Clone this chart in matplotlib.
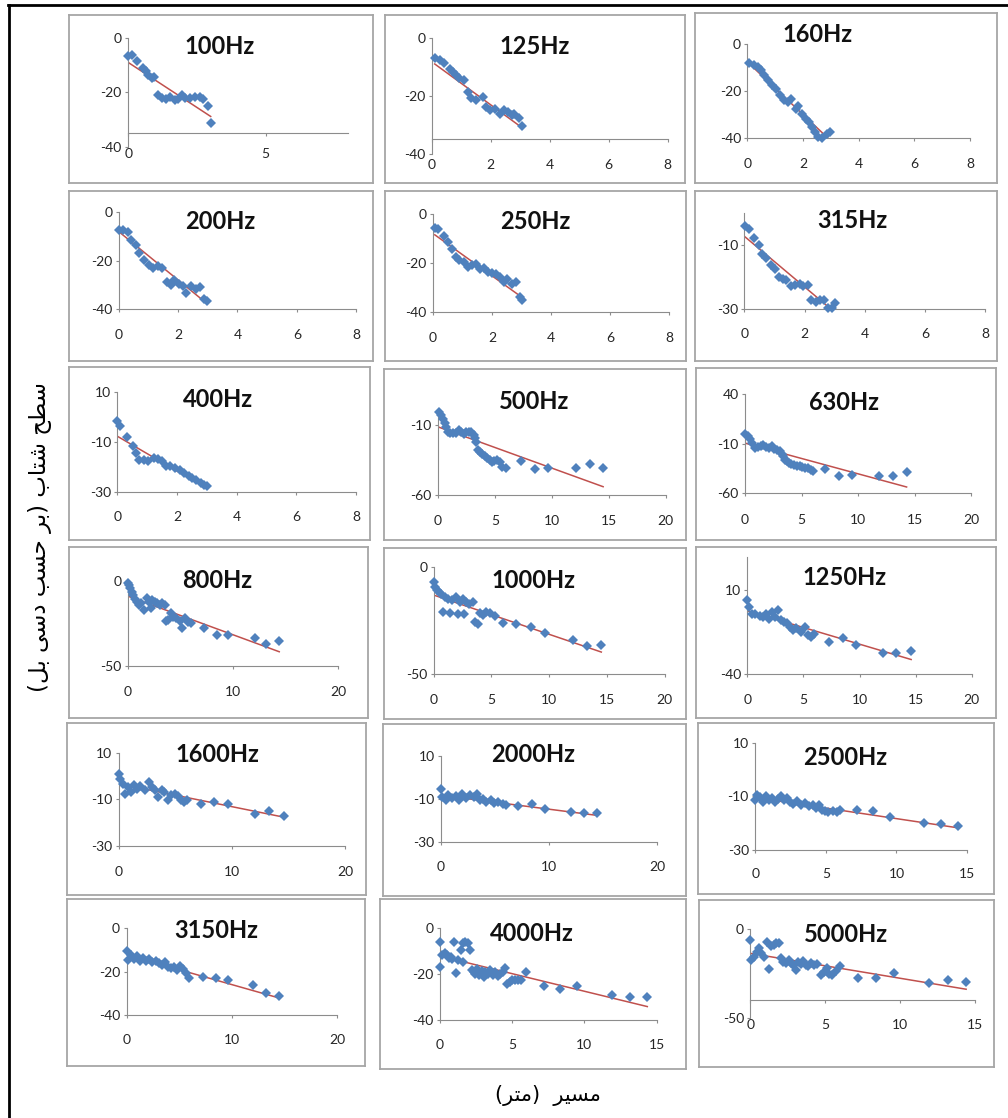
import numpy as np
import matplotlib
matplotlib.use("Agg")
import matplotlib.pyplot as plt
from matplotlib.lines import Line2D

plt.rcParams["axes.unicode_minus"] = False

W, H = 1008, 1118

freqs = ["100Hz", "125Hz", "160Hz", "200Hz", "250Hz", "315Hz",
         "400Hz", "500Hz", "630Hz", "800Hz", "1000Hz", "1250Hz",
         "1600Hz", "2000Hz", "2500Hz", "3150Hz", "4000Hz", "5000Hz"]

# distance (m) and acceleration level (dB)
x100 = [0, 0.12, 0.33, 0.55, 0.64, 0.73, 0.85, 0.93, 1.07, 1.21, 1.37, 1.52, 1.70, 1.82, 1.94, 2.06, 2.25, 2.43, 2.60, 2.73, 2.89, 3.00]
y100 = [-6.7, -6.4, -8.5, -11.2, -12.4, -13.7, -14.9, -14.5, -21.2, -22.2, -22.6, -21.9, -22.8, -22.6, -21.0, -22.2, -22.2, -21.6, -21.6, -22.6, -25.2, -31.3]

x125 = [0.10, 0.27, 0.41, 0.61, 0.71, 0.82, 0.92, 1.08, 1.22, 1.33, 1.49, 1.73, 1.84, 1.98, 2.14, 2.31, 2.45, 2.59, 2.71, 2.80, 2.96, 3.06]
y125 = [-7.1, -7.7, -8.6, -10.6, -11.7, -12.9, -14.0, -14.6, -18.6, -20.9, -21.3, -20.3, -23.8, -24.7, -24.4, -26.1, -24.9, -25.5, -26.7, -26.1, -27.5, -30.5]

x160 = [0.06, 0.24, 0.39, 0.49, 0.60, 0.75, 0.88, 1.03, 1.18, 1.31, 1.46, 1.57, 1.74, 1.83, 1.96, 2.11, 2.22, 2.32, 2.43, 2.54, 2.69, 2.86, 2.97]
y160 = [-8.1, -8.6, -9.6, -11.0, -13.1, -15.3, -17.4, -18.9, -21.7, -23.9, -24.6, -23.1, -27.4, -26.4, -29.6, -31.7, -33.1, -35.0, -37.4, -39.6, -39.9, -38.1, -37.4]

x200 = [0, 0.16, 0.30, 0.42, 0.57, 0.67, 0.87, 1.03, 1.17, 1.31, 1.47, 1.64, 1.78, 1.88, 2.02, 2.18, 2.28, 2.44, 2.59, 2.73, 2.89, 2.99]
y200 = [-7.5, -7.3, -8.2, -11.4, -13.4, -16.8, -19.6, -21.6, -23.0, -22.3, -23.0, -28.9, -29.9, -27.8, -29.5, -30.5, -33.3, -30.5, -31.6, -30.8, -35.8, -36.7]

x250 = [0.06, 0.16, 0.37, 0.51, 0.63, 0.78, 0.88, 1.04, 1.18, 1.33, 1.45, 1.59, 1.73, 1.86, 2.00, 2.14, 2.27, 2.41, 2.51, 2.67, 2.82, 2.96, 3.02]
y250 = [-5.5, -6.2, -9.0, -11.3, -14.1, -17.5, -18.6, -19.6, -21.7, -21.0, -20.3, -22.3, -22.1, -23.7, -24.1, -24.4, -25.8, -27.9, -26.5, -28.6, -27.9, -34.1, -35.2]

x315 = [0.02, 0.16, 0.33, 0.47, 0.57, 0.73, 0.88, 1.02, 1.14, 1.29, 1.39, 1.55, 1.69, 1.84, 1.96, 2.10, 2.20, 2.37, 2.51, 2.65, 2.78, 2.92, 3.02]
y315 = [-4.1, -4.8, -7.6, -10.0, -12.6, -14.1, -16.2, -17.3, -19.8, -20.4, -20.9, -22.8, -22.5, -22.0, -22.8, -22.5, -27.2, -27.7, -27.2, -27.0, -29.5, -29.7, -28.0]

x400 = [0, 0.10, 0.31, 0.51, 0.61, 0.71, 0.88, 1.02, 1.22, 1.37, 1.49, 1.63, 1.78, 1.94, 2.10, 2.24, 2.39, 2.51, 2.65, 2.80, 2.92, 3.02]
y400 = [-1.7, -3.5, -8.1, -11.5, -14.4, -17.1, -17.1, -17.7, -16.4, -16.8, -17.7, -19.5, -19.7, -20.4, -21.1, -22.4, -23.5, -24.4, -25.1, -26.4, -27.5, -27.7]

x500 = [0.10, 0.26, 0.42, 0.59, 0.75, 0.85, 1.07, 1.30, 1.56, 1.82, 2.05, 2.28, 2.48, 2.70, 2.93, 3.13, 3.26, 3.35, 3.52, 3.68,
        3.84, 4.10, 4.33, 4.56, 4.76, 4.89, 5.15, 5.41, 5.64, 5.96, 7.26, 8.50, 9.70, 12.08, 13.36, 14.50]
y500 = [-0.5, -2.9, -6.0, -8.3, -11.2, -14.8, -16.0, -15.5, -16.0, -13.6, -15.2, -16.4, -14.8, -14.8, -15.2, -17.1, -19.5, -21.9, -27.9, -29.0,
        -30.7, -32.1, -33.8, -35.0, -36.2, -35.5, -35.0, -36.2, -40.2, -41.0, -35.7, -41.4, -40.5, -41.0, -38.1, -41.0]

x630 = [0, 0.23, 0.42, 0.65, 0.87, 1.13, 1.39, 1.62, 1.84, 2.10, 2.36, 2.59, 2.82, 3.07, 3.24, 3.40, 3.56, 3.72, 3.88, 4.11,
        4.37, 4.63, 4.85, 5.08, 5.34, 5.60, 5.83, 5.99, 7.12, 8.32, 9.48, 11.88, 13.10, 14.30]
y630 = [-0.2, -2.6, -5.3, -9.3, -14.4, -13.7, -12.7, -11.3, -13.4, -14.4, -12.7, -15.4, -16.1, -17.7, -20.1, -22.8, -26.2, -27.8, -28.9, -30.2,
        -31.2, -32.2, -32.9, -33.6, -34.6, -34.6, -36.9, -37.9, -35.6, -42.3, -41.3, -42.3, -43.0, -38.6]

x800 = [0, 0.14, 0.24, 0.42, 0.49, 0.70, 0.84, 1.05, 1.29, 1.54, 1.82, 2.00, 2.17, 2.34, 2.59, 2.80, 3.04, 3.29, 3.50, 3.64,
        3.85, 4.09, 4.34, 4.62, 4.97, 5.21, 5.49, 5.73, 6.01, 7.24, 8.46, 9.58, 12.06, 13.18, 14.41]
y800 = [-1.4, -2.4, -4.3, -6.3, -8.3, -10.8, -12.2, -14.2, -13.2, -17.1, -10.2, -12.2, -16.1, -11.2, -12.2, -13.2, -14.2, -13.2, -14.2, -23.6,
        -23.0, -19.1, -21.1, -22.0, -23.4, -27.8, -22.0, -24.0, -25.0, -27.8, -31.9, -31.9, -33.5, -37.2, -35.2]

x1000 = [0, 0.16, 0.32, 0.48, 0.65, 0.81, 1.03, 1.23, 1.45, 1.61, 1.94, 2.10, 2.32, 2.52, 2.65, 2.84, 3.06, 3.39, 3.61, 3.81,
         4.03, 4.26, 4.52, 4.90, 5.32, 5.97, 7.16, 8.45, 9.68, 12.10, 13.29, 14.52]
y1000 = [-7.0, -9.3, -10.9, -11.6, -12.9, -21.0, -14.0, -15.2, -21.4, -15.5, -14.0, -22.0, -16.3, -15.2, -22.0, -16.3, -17.4, -16.3, -25.6, -26.7,
         -21.7, -22.5, -21.0, -21.4, -23.0, -26.1, -26.7, -28.3, -30.7, -34.2, -37.0, -36.5]

x1250 = [0, 0.16, 0.43, 0.70, 1.08, 1.35, 1.67, 1.89, 2.21, 2.48, 2.75, 3.02, 3.29, 3.56, 3.83, 4.10, 4.37, 4.74, 5.12, 5.44,
         5.71, 5.98, 7.28, 8.52, 9.70, 12.08, 13.26, 14.60]
y1250 = [4.4, 0.1, -3.9, -4.3, -5.5, -5.9, -3.9, -6.9, -2.9, -5.9, -1.9, -7.9, -8.8, -9.8, -11.8, -13.8, -12.8, -14.8, -11.8, -16.8,
         -17.8, -16.2, -20.8, -18.8, -22.7, -27.3, -27.7, -26.1]

x1600 = [0, 0.16, 0.43, 0.59, 0.80, 1.12, 1.33, 1.65, 1.92, 2.29, 2.72, 2.93, 3.25, 3.47, 3.79, 4.00, 4.32, 4.59, 4.96, 5.23,
         5.49, 5.76, 6.03, 7.25, 8.43, 9.65, 12.00, 13.23, 14.56]
y1600 = [1.0, -1.1, -3.3, -7.6, -4.7, -6.9, -4.0, -5.4, -4.4, -6.1, -2.6, -4.7, -6.1, -9.0, -6.1, -6.9, -10.4, -8.3, -7.6, -8.7,
         -10.4, -11.1, -10.4, -11.9, -11.1, -12.1, -16.1, -15.0, -16.9]

x2000 = [0, 0.11, 0.45, 0.67, 1.00, 1.40, 1.68, 1.96, 2.35, 2.68, 3.07, 3.35, 3.63, 3.91, 4.19, 4.58, 4.92, 5.31, 5.70, 6.03,
         7.15, 8.38, 9.61, 12.01, 13.18, 14.41]
y2000 = [-5.3, -9.2, -10.5, -8.4, -9.5, -8.9, -10.5, -8.0, -9.5, -8.4, -9.2, -8.0, -10.8, -10.0, -11.6, -10.8, -12.0, -11.6, -12.3, -13.1,
         -13.6, -12.7, -14.7, -16.3, -16.7, -16.7]

x2500 = [0, 0.09, 0.34, 0.52, 0.77, 0.94, 1.20, 1.37, 1.63, 1.80, 2.06, 2.27, 2.49, 2.70, 2.92, 3.22, 3.52, 3.78, 4.08, 4.29,
         4.51, 4.72, 4.94, 5.15, 5.49, 5.79, 6.01, 7.21, 8.37, 9.57, 11.93, 13.13, 14.33]
y2500 = [-11.5, -9.6, -10.3, -12.1, -10.0, -11.3, -10.5, -12.1, -10.9, -10.0, -11.5, -10.5, -12.1, -12.8, -11.8, -13.4, -12.5, -13.8, -13.4, -14.6,
         -13.4, -15.0, -15.5, -15.9, -15.5, -15.9, -15.3, -15.3, -15.5, -17.8, -19.9, -20.5, -21.3]

x3150 = [0, 0.11, 0.40, 0.69, 1.03, 1.32, 1.61, 1.90, 2.18, 2.47, 2.76, 3.05, 3.33, 3.62, 3.91, 4.20, 4.48, 4.77, 5.06, 5.34,
         5.63, 5.92, 7.30, 8.51, 9.66, 12.07, 13.22, 14.48]
y3150 = [-10.3, -14.5, -12.2, -14.1, -13.0, -15.0, -13.8, -15.3, -14.1, -15.6, -15.0, -16.1, -16.9, -15.6, -17.7, -18.4, -17.7, -19.2, -17.2, -18.8,
         -20.8, -22.8, -22.3, -23.1, -23.9, -26.3, -29.7, -31.3]

x4000 = [0, 0, 0.18, 0.36, 0.51, 0.61, 0.76, 0.87, 1.02, 1.12, 1.27, 1.45, 1.58, 1.63, 1.78, 1.96, 2.09, 2.21, 2.34, 2.47,
         2.60, 2.72, 2.90, 3.05, 3.16, 3.31, 3.49, 3.66, 3.82, 4.00, 4.17, 4.38, 4.50, 4.68, 4.83, 5.01, 5.19, 5.39, 5.60, 5.95,
         7.18, 8.32, 9.52, 11.93, 13.16, 14.35]
y4000 = [-6.1, -17.0, -11.9, -11.2, -11.9, -13.3, -12.6, -13.8, -6.1, -19.6, -14.1, -9.7, -6.5, -14.8, -6.1, -6.8, -9.7, -18.4, -19.1, -19.9,
         -18.1, -20.4, -18.6, -21.2, -19.1, -20.1, -18.4, -20.4, -19.4, -20.9, -20.1, -19.1, -17.7, -24.5, -23.5, -22.5, -22.8, -22.5, -22.8, -19.1,
         -25.4, -26.8, -25.4, -29.3, -30.3, -30.0]

x5000 = [0, 0.05, 0.25, 0.42, 0.59, 0.74, 0.91, 1.08, 1.23, 1.40, 1.57, 1.72, 1.89, 2.06, 2.21, 2.38, 2.56, 2.70, 2.87, 3.05,
         3.19, 3.37, 3.54, 3.69, 3.86, 4.03, 4.23, 4.47, 4.72, 4.91, 5.09, 5.26, 5.45, 5.70, 5.99, 7.22, 8.40, 9.58, 11.97, 13.19,
         14.42]
y5000 = [-6.0, -17.2, -15.4, -12.5, -10.7, -13.1, -15.7, -6.9, -22.5, -9.4, -8.8, -7.5, -7.9, -16.3, -18.2, -19.1, -17.2, -18.7, -20.0, -22.8,
         -18.2, -19.5, -17.6, -20.0, -20.6, -19.1, -20.0, -19.5, -25.7, -23.8, -21.9, -25.1, -25.7, -23.2, -20.6, -27.5, -27.5, -24.3, -30.0, -28.5,
         -29.4]

# linear trend lines as drawn in the picture: (intercept, slope)
trend100 = (-9.1, -6.6)
trend125 = (-8.3, -7.4)
trend160 = (-7.5, -11.2)
trend200 = (-7.9, -10.0)
trend250 = (-7.9, -8.7)
trend315 = (-7.2, -7.9)
trend400 = (-7.7, -7.0)
trend500 = (-11.3, -2.95)
trend630 = (-9.3, -3.1)
trend800 = (-8.9, -2.28)
trend1000 = (-13.2, -1.83)
trend1250 = (-2.3, -1.99)
trend1600 = (-3.3, -0.98)
trend2000 = (-8.4, -0.65)
trend2500 = (-10.5, -0.79)
trend3150 = (-12.2, -1.38)
trend4000 = (-12.3, -1.53)
trend5000 = (-13.5, -1.40)

xs = [x100, x125, x160, x200, x250, x315, x400, x500, x630,
      x800, x1000, x1250, x1600, x2000, x2500, x3150, x4000, x5000]
ys = [y100, y125, y160, y200, y250, y315, y400, y500, y630,
      y800, y1000, y1250, y1600, y2000, y2500, y3150, y4000, y5000]
trends = [trend100, trend125, trend160, trend200, trend250, trend315, trend400, trend500, trend630,
          trend800, trend1000, trend1250, trend1600, trend2000, trend2500, trend3150, trend4000, trend5000]

# layout in pixels: frame box, plot box (left, right, top, bottom), y range, y ticks,
# where the x axis crosses, x max, x step, x label row, title centre
layout = [
    ((69, 15, 373, 183), (128.3, 348, 37.7, 146.7), (-40, 0), [-40, -20, 0], -35, 8, 5, 155, (220, 46.7)),
    ((385, 15, 685, 183), (431.8, 667.6, 37.7, 154), (-40, 0), [-40, -20, 0], -35, 8, 2, 166, (534.6, 46)),
    ((695, 13, 997, 183), (747.4, 970, 44.3, 138.3), (-40, 0), [-40, -20, 0], -40, 8, 2, 165, (817.6, 35)),
    ((69, 191, 373, 361), (118.6, 356.3, 212.3, 309.3), (-40, 0), [-40, -20, 0], -40, 8, 2, 336, (220, 221.7)),
    ((385, 191, 686, 361), (433, 669.4, 214.3, 311.7), (-40, 0), [-40, -20, 0], -40, 8, 2, 339, (535.8, 221.7)),
    ((695, 191, 997, 361), (744.4, 985, 213.3, 309.3), (-30, 0), [-30, -10], -30, 8, 2, 335, (852, 220)),
    ((69, 367, 370, 540), (117.4, 356, 392.3, 491.7), (-30, 10), [-30, -10, 10], -30, 8, 2, 518, (218.4, 399.3)),
    ((384, 369, 686, 540), (437.9, 665.8, 411, 495), (-60, 0), [-60, -10], -60, 20, 5, 521.5, (534.6, 401.7)),
    ((696, 368, 996, 540), (745, 971, 394.3, 493.3), (-60, 40), [-60, -10, 40], -60, 20, 5, 521, (844, 402.3)),
    ((69, 547, 368, 718), (127.7, 338, 581, 665.7), (-50, 0), [-50, 0], -50, 20, 10, 692.5, (217, 580)),
    ((384, 548, 686, 719), (433.6, 664.6, 566.7, 674), (-50, 0), [-50, 0], -50, 20, 5, 701, (533.4, 580)),
    ((696, 547, 996, 718), (747.4, 971.7, 556.7, 674), (-40, 30), [-40, 10], -40, 20, 5, 701, (844.8, 578)),
    ((67, 723, 366, 895), (118.6, 345.4, 752.5, 846.3), (-30, 10), [-30, -10, 10], -30, 20, 10, 872.5, (217.2, 754.5)),
    ((383, 724, 686, 896), (441, 657.3, 755.8, 841.6), (-30, 10), [-30, -10, 10], -30, 20, 10, 868, (533.4, 755)),
    ((698, 723, 994, 894), (755.3, 967, 742.8, 849.6), (-30, 10), [-30, -10, 10], -30, 15, 5, 875.5, (844.8, 757.9)),
    ((67, 899, 365, 1066), (126.5, 336.9, 928.4, 1014.8), (-40, 0), [-40, -20, 0], -40, 20, 10, 1041.5, (216, 931)),
    ((380, 899, 686, 1069), (439.7, 656.7, 927.7, 1019.8), (-40, 0), [-40, -20, 0], -40, 15, 5, 1046, (531.6, 933.7)),
    ((699, 900, 994, 1067), (750.4, 974.8, 929.4, 1018.2), (-50, 0), [-50, 0], -40, 15, 5, 1026, (846, 934.4)),
]

# Persian labels, shaped and laid out right-to-left by hand
ylabel_fa = ("(\uFEDE\uFE91 \uFEF0\uFEB3\uFEA9 \uFE90\uFEB4\uFEA3 \uFEAE\uFE91) "
             "\uFE8F\uFE8E\uFE98\uFEB7 \uFEA2\uFEC4\uFEB3")
xlabel_fa = "(\uFEAE\uFE98\uFEE3)  \uFEAE\uFEF4\uFEB4\uFEE3"

BLUE = "#4F81BD"
RED = "#C0504D"
AXIS_GRAY = "#8C8C8C"
FRAME_GRAY = "#A6A6A6"
TICK_PX = 3


def fig_rect(x0, y0, x1, y1):
    return [x0 / W, 1 - y1 / H, (x1 - x0) / W, (y1 - y0) / H]


fig = plt.figure(figsize=(W / 100, H / 100), dpi=100)

for i in range(len(freqs)):
    frame, box, ylim, yticks, cross, xmax, xstep, label_y, title_xy = layout[i]

    fr = fig.add_axes(fig_rect(*frame))
    fr.set_xticks([])
    fr.set_yticks([])
    for s in fr.spines.values():
        s.set_color(FRAME_GRAY)
        s.set_linewidth(1.3)
    fr.set_zorder(0)

    L, R, T, B = box
    ax = fig.add_axes(fig_rect(L, T, R, B))
    ax.set_zorder(1)
    ax.patch.set_alpha(0)
    ax.set_xlim(0, xmax)
    ax.set_ylim(*ylim)
    ax.set_yticks(yticks)
    ax.set_xticks(np.arange(0, xmax + 0.01, xstep))
    ax.spines["top"].set_visible(False)
    ax.spines["right"].set_visible(False)
    ax.spines["bottom"].set_position(("data", cross))
    for side in ("left", "bottom"):
        ax.spines[side].set_color(AXIS_GRAY)
        ax.spines[side].set_linewidth(0.8)

    axis_px = T + (ylim[1] - cross) / (ylim[1] - ylim[0]) * (B - T)
    pad_px = label_y - axis_px - TICK_PX - 7
    ax.tick_params(axis="x", direction="out", length=TICK_PX * 0.72, width=0.8,
                   color=AXIS_GRAY, pad=pad_px * 0.72, labelsize=10, labelcolor="#262626")
    ax.tick_params(axis="y", direction="out", length=TICK_PX * 0.72, width=0.8,
                   color=AXIS_GRAY, pad=2.5, labelsize=10, labelcolor="#262626")
    for lab in ax.get_xticklabels() + ax.get_yticklabels():
        lab.set_fontfamily("Lato")

    x = np.array(xs[i])
    y = np.array(ys[i])
    a, b = trends[i]
    xt = np.array([x.min(), x.max()])
    ax.plot(xt, a + b * xt, color=RED, lw=1.1, zorder=2)
    ax.plot(x, y, "D", color=BLUE, markersize=5.4, markeredgewidth=0,
            clip_on=False, zorder=3)

    fig.text(title_xy[0] / W, 1 - title_xy[1] / H, freqs[i], ha="center", va="center",
             fontsize=17, fontweight="bold", family="Lato", color="#111111")

# outer border (top and left edges only)
fig.add_artist(Line2D([8 / W, 1], [1 - 5 / H, 1 - 5 / H], color="black", lw=2.0))
fig.add_artist(Line2D([9 / W, 9 / W], [0, 1 - 5 / H], color="black", lw=2.0))

fig.text(40 / W, 1 - 537 / H, ylabel_fa, rotation=90, ha="center", va="center",
         fontsize=16.5, family="DejaVu Sans", color="black")
fig.text(548 / W, 1 - 1095 / H, xlabel_fa, ha="center", va="center",
         fontsize=15, family="DejaVu Sans", color="black")

fig.savefig("out.png", dpi=100)
